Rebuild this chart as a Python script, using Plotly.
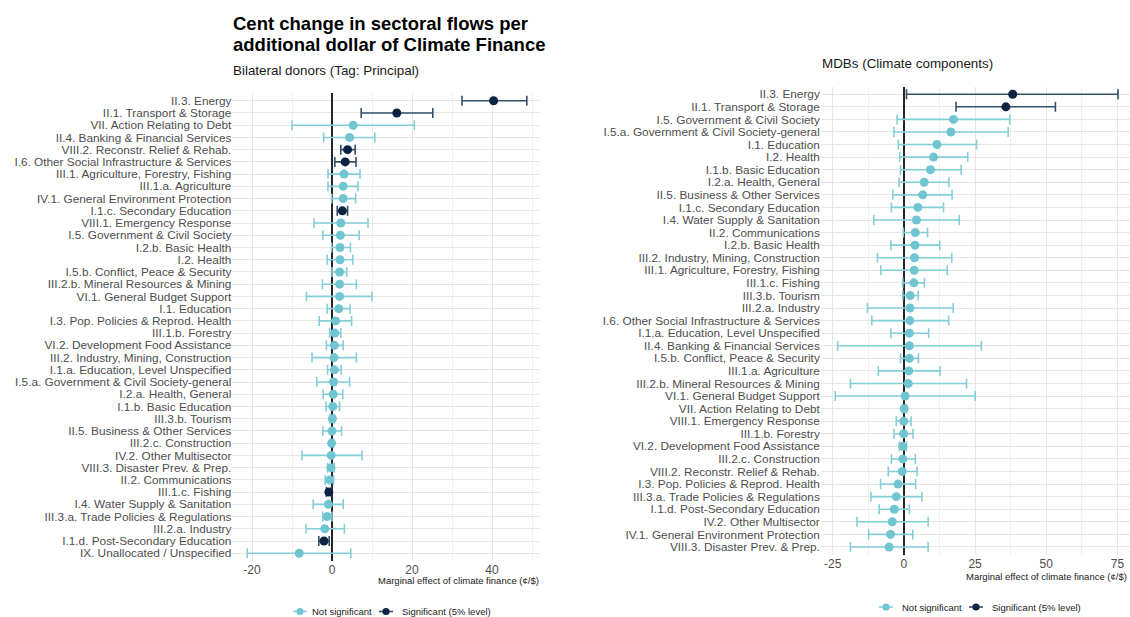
import plotly.graph_objects as go

# ---------------------------------------------------------------------------
# Bilateral donors (Tag: Principal): estimate, 95% CI, significance at 5%
# ---------------------------------------------------------------------------
bilateral_sectors = [
    "II.3. Energy", "II.1. Transport & Storage", "VII. Action Relating to Debt",
    "II.4. Banking & Financial Services", "VIII.2. Reconstr. Relief & Rehab.",
    "I.6. Other Social Infrastructure & Services", "III.1. Agriculture, Forestry, Fishing",
    "III.1.a. Agriculture", "IV.1. General Environment Protection",
    "I.1.c. Secondary Education", "VIII.1. Emergency Response",
    "I.5. Government & Civil Society", "I.2.b. Basic Health", "I.2. Health",
    "I.5.b. Conflict, Peace & Security", "III.2.b. Mineral Resources & Mining",
    "VI.1. General Budget Support", "I.1. Education",
    "I.3. Pop. Policies & Reprod. Health", "III.1.b. Forestry",
    "VI.2. Development Food Assistance", "III.2. Industry, Mining, Construction",
    "I.1.a. Education, Level Unspecified", "I.5.a. Government & Civil Society-general",
    "I.2.a. Health, General", "I.1.b. Basic Education", "III.3.b. Tourism",
    "II.5. Business & Other Services", "III.2.c. Construction",
    "IV.2. Other Multisector", "VIII.3. Disaster Prev. & Prep.",
    "II.2. Communications", "III.1.c. Fishing", "I.4. Water Supply & Sanitation",
    "III.3.a. Trade Policies & Regulations", "III.2.a. Industry",
    "I.1.d. Post-Secondary Education", "IX. Unallocated / Unspecified",
]
bilateral_est = [40.4, 16.2, 5.3, 4.4, 3.9, 3.3, 3.0, 2.8, 2.8, 2.6, 2.2, 2.1, 2.0,
                 2.0, 1.9, 1.9, 1.9, 1.7, 0.9, 0.7, 0.6, 0.5, 0.6, 0.4, 0.3, 0.2,
                 0.1, 0.0, -0.1, -0.2, -0.3, -0.6, -0.8, -0.9, -1.2, -1.8, -2.0, -8.2]
bilateral_lo = [32.5, 7.3, -10.0, -2.1, 2.2, 0.7, -1.0, -1.0, -0.1, 1.3, -4.5, -2.3, -0.1,
                -1.2, 0.0, -2.4, -6.4, -1.2, -3.2, -0.6, -1.4, -5.0, -1.1, -3.8, -2.2, -1.5,
                -0.4, -2.3, -0.4, -7.5, -1.1, -1.7, -1.4, -4.7, -2.3, -6.5, -3.3, -21.2]
bilateral_hi = [48.7, 25.2, 20.6, 10.7, 5.8, 6.0, 7.0, 6.5, 5.9, 3.9, 9.0, 6.8, 4.6,
                5.2, 3.7, 6.1, 10.0, 4.5, 4.9, 2.2, 2.8, 6.1, 2.3, 4.4, 2.7, 1.9,
                0.6, 2.4, 0.4, 7.5, 0.6, 0.4, -0.2, 2.8, 0.0, 3.1, -0.7, 4.7]
bilateral_sig = [1, 1, 0, 0, 1, 1, 0, 0, 0, 1, 0, 0, 0,
                 0, 0, 0, 0, 0, 0, 0, 0, 0, 0, 0, 0, 0,
                 0, 0, 0, 0, 0, 0, 1, 0, 0, 0, 1, 0]

# ---------------------------------------------------------------------------
# MDBs (Climate components)
# ---------------------------------------------------------------------------
mdb_sectors = [
    "II.3. Energy", "II.1. Transport & Storage", "I.5. Government & Civil Society",
    "I.5.a. Government & Civil Society-general", "I.1. Education", "I.2. Health",
    "I.1.b. Basic Education", "I.2.a. Health, General", "II.5. Business & Other Services",
    "I.1.c. Secondary Education", "I.4. Water Supply & Sanitation", "II.2. Communications",
    "I.2.b. Basic Health", "III.2. Industry, Mining, Construction",
    "III.1. Agriculture, Forestry, Fishing", "III.1.c. Fishing", "III.3.b. Tourism",
    "III.2.a. Industry", "I.6. Other Social Infrastructure & Services",
    "I.1.a. Education, Level Unspecified", "II.4. Banking & Financial Services",
    "I.5.b. Conflict, Peace & Security", "III.1.a. Agriculture",
    "III.2.b. Mineral Resources & Mining", "VI.1. General Budget Support",
    "VII. Action Relating to Debt", "VIII.1. Emergency Response", "III.1.b. Forestry",
    "VI.2. Development Food Assistance", "III.2.c. Construction",
    "VIII.2. Reconstr. Relief & Rehab.", "I.3. Pop. Policies & Reprod. Health",
    "III.3.a. Trade Policies & Regulations", "I.1.d. Post-Secondary Education",
    "IV.2. Other Multisector", "IV.1. General Environment Protection",
    "VIII.3. Disaster Prev. & Prep.",
]
mdb_est = [38.2, 35.8, 17.4, 16.5, 11.6, 10.4, 9.3, 7.1, 6.6, 4.9, 4.4, 4.0, 3.9,
           3.7, 3.6, 3.5, 2.2, 2.1, 2.1, 1.9, 1.9, 1.9, 1.7, 1.5, 0.4, 0.1, -0.1,
           -0.1, -0.4, -0.4, -0.6, -2.1, -2.7, -3.4, -4.1, -4.7, -5.2]
mdb_lo = [0.9, 18.3, -2.4, -3.5, -2.0, -1.5, -1.2, -1.7, -3.9, -4.4, -10.6, -0.2, -4.6,
          -9.3, -8.1, -0.4, -0.4, -12.8, -11.3, -4.6, -23.3, -1.2, -9.0, -18.8, -24.1,
          -0.5, -2.7, -3.5, -1.6, -4.4, -5.5, -8.2, -11.6, -8.7, -16.5, -12.4, -18.8]
mdb_hi = [75.2, 53.2, 37.2, 36.6, 25.5, 22.4, 20.1, 15.8, 16.9, 13.9, 19.4, 8.3, 12.6,
          16.8, 15.2, 7.2, 5.0, 17.3, 15.7, 8.7, 27.2, 5.1, 12.7, 22.0, 25.0,
          0.9, 2.5, 3.2, 0.9, 4.0, 4.6, 4.1, 6.3, 1.9, 8.5, 3.1, 8.5]
mdb_sig = [1, 1] + [0] * 35

# Axis ticks (hyphen minus, as printed on the axes)
bilateral_ticks = [-20, 0, 20, 40]
bilateral_minor = [-10, 10, 30, 50]
mdb_ticks = [-25, 0, 25, 50, 75]
mdb_minor = [-12.5, 12.5, 37.5, 62.5]

# ---------------------------------------------------------------------------
W, H = 1130, 617
FONT = "Arial, Liberation Sans, sans-serif"
NS_POINT, NS_BAR = "#70C5D0", "#86CED7"
SIG_POINT, SIG_BAR = "#0D2342", "#34506A"
GRID_MAJOR, GRID_MINOR = "#E6E6E6", "#F0F0F0"
TICK_GREY = "#4D4D4D"


def px(x):
    return x / W


def py(y):
    return 1 - y / H


fig = go.Figure()


def add_panel(sectors, est, lo, hi, sig, xa, ya):
    for flag, pcol, bcol in ((0, NS_POINT, NS_BAR), (1, SIG_POINT, SIG_BAR)):
        idx = [i for i, s in enumerate(sig) if s == flag]
        fig.add_trace(go.Scatter(
            x=[est[i] for i in idx],
            y=[sectors[i] for i in idx],
            mode="markers",
            marker=dict(size=9, color=pcol),
            error_x=dict(type="data", symmetric=False,
                         array=[hi[i] - est[i] for i in idx],
                         arrayminus=[est[i] - lo[i] for i in idx],
                         color=bcol, thickness=1.6, width=5),
            xaxis=xa, yaxis=ya, showlegend=False, hoverinfo="skip",
        ))


add_panel(bilateral_sectors, bilateral_est, bilateral_lo, bilateral_hi, bilateral_sig, "x", "y")
add_panel(mdb_sectors, mdb_est, mdb_lo, mdb_hi, mdb_sig, "x2", "y2")


def xaxis_cfg(domain, rng, ticks, minor, anchor):
    return dict(
        domain=domain, range=rng, anchor=anchor,
        tickmode="array", tickvals=ticks, ticktext=[str(t) for t in ticks],
        showgrid=True, gridcolor=GRID_MAJOR, gridwidth=1,
        minor=dict(tickmode="array", tickvals=minor, showgrid=True,
                   gridcolor=GRID_MINOR, gridwidth=1, ticks=""),
        zeroline=True, zerolinecolor="#262626", zerolinewidth=1.5,
        showline=False, ticks="", tickfont=dict(family=FONT, size=12, color=TICK_GREY),
        fixedrange=True,
    )


def yaxis_cfg(domain, sectors, anchor):
    n = len(sectors)
    return dict(
        domain=domain, anchor=anchor, type="category",
        categoryorder="array", categoryarray=list(reversed(sectors)),
        tickmode="array", tickvals=list(sectors), ticktext=list(sectors),
        range=[-0.6, n - 0.4],
        showgrid=True, gridcolor=GRID_MAJOR, gridwidth=1,
        zeroline=False, showline=False, ticks="",
        tickfont=dict(family=FONT, size=11.8, color=TICK_GREY),
        fixedrange=True,
    )


fig.update_layout(
    width=W, height=H,
    margin=dict(l=0, r=0, t=0, b=0),
    paper_bgcolor="white", plot_bgcolor="white",
    font=dict(family=FONT, color="#1A1A1A"),
    xaxis=xaxis_cfg([px(232.4), px(540)], [-24.9, 52], bilateral_ticks, bilateral_minor, "y"),
    yaxis=yaxis_cfg([py(560.6), py(93.4)], bilateral_sectors, "x"),
    xaxis2=xaxis_cfg([px(820.8), 1.0], [-29.2, 79.4], mdb_ticks, mdb_minor, "y2"),
    yaxis2=yaxis_cfg([py(554.5), py(86.7)], mdb_sectors, "x2"),
    showlegend=False,
)

annotations = []


def text(x, y, s, size, bold=False, color="#1A1A1A", xanchor="left"):
    annotations.append(dict(
        x=px(x), y=py(y), xref="paper", yref="paper", text=f"<b>{s}</b>" if bold else s,
        showarrow=False, xanchor=xanchor, yanchor="middle",
        font=dict(family=FONT, size=size, color=color), align="left",
    ))


# Titles
text(231, 24, "Cent change in sectoral flows per", 18.5, bold=True, color="#000000")
text(231, 45, "additional dollar of Climate Finance", 18.5, bold=True, color="#000000")
text(231, 71, "Bilateral donors (Tag: Principal)", 13.4)
text(820, 64, "MDBs (Climate components)", 13.4)

# Axis titles, right-aligned under each panel
text(541, 580, "Marginal effect of climate finance (¢/$)", 9.5, xanchor="right")
text(1129, 576, "Marginal effect of climate finance (¢/$)", 9.5, xanchor="right")

# Legends (one under each panel)
shapes = []


def legend_key(cx, cy, point_col, bar_col):
    shapes.append(dict(type="line", xref="paper", yref="paper",
                       x0=px(cx - 7), x1=px(cx + 7), y0=py(cy), y1=py(cy),
                       line=dict(color=bar_col, width=1.6)))
    r = 3.6
    shapes.append(dict(type="circle", xref="paper", yref="paper",
                       x0=px(cx - r), x1=px(cx + r), y0=py(cy + r), y1=py(cy - r),
                       fillcolor=point_col, line=dict(width=0)))


for (nx, sx, ly, ntx, stx) in ((300, 386, 611.5, 312, 402), (886, 976, 607, 902, 992)):
    legend_key(nx, ly, NS_POINT, NS_BAR)
    legend_key(sx, ly, SIG_POINT, SIG_BAR)
    text(ntx - 2, ly, "Not significant", 9.5)
    text(stx - 2, ly, "Significant (5% level)", 9.5)

fig.update_layout(annotations=annotations, shapes=shapes)

fig.write_html("out.html")
